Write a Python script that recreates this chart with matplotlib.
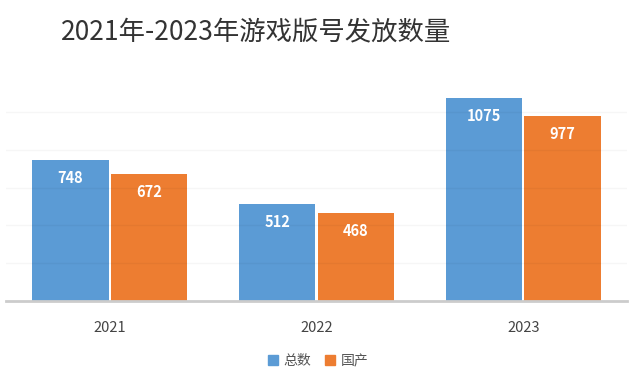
import matplotlib.pyplot as plt
import numpy as np
from matplotlib.patches import Patch

plt.rcParams['font.family'] = ['Noto Sans CJK SC', 'DejaVu Sans']

years = ['2021', '2022', '2023']
total = [748, 512, 1075]
domestic = [672, 468, 977]
series_names = ['总数', '国产']

blue = '#5b9bd5'
orange = '#ed7d31'

fig = plt.figure(figsize=(6.4, 3.84), dpi=100)
ax = fig.add_axes([0.01, 0.216, 0.969, 0.576])

x = np.arange(len(years))
w = 0.37
b1 = ax.bar(x - 0.19, total, w, color=blue, zorder=2)
b2 = ax.bar(x + 0.19, domestic, w, color=orange, zorder=2)

# faint gridlines that mostly show on top of the bars
for g in range(200, 1200, 200):
    ax.axhline(g, color='#000000', alpha=0.035, lw=1, zorder=3)

for bars in (b1, b2):
    for r in bars:
        ax.annotate(f'{int(r.get_height())}', (r.get_x() + r.get_width() / 2, r.get_height()),
                    xytext=(0, -13), textcoords='offset points', ha='center', va='center',
                    color='white', fontsize=10.5, fontweight='bold', zorder=4)

ax.set_xlim(-0.5, 2.5)
ax.set_ylim(0, 1170)
ax.set_xticks(x)
ax.set_xticklabels(years, fontsize=10.5, color='#444444')
ax.tick_params(axis='x', length=0, pad=14)
ax.set_yticks([])
for s in ['top', 'right', 'left']:
    ax.spines[s].set_visible(False)
ax.spines['bottom'].set_color('#cccccc')
ax.spines['bottom'].set_linewidth(2)

fig.text(0.40, 1 - 32 / 384, '2021年-2023年游戏版号发放数量', ha='center', va='center',
         fontsize=19, color='#333333')

handles = [Patch(color=blue), Patch(color=orange)]
fig.legend(handles, series_names, loc='center', bbox_to_anchor=(0.497, 1 - 361 / 384),
           ncol=2, frameon=False, fontsize=10, handlelength=0.7, handleheight=0.7,
           handletextpad=0.4, columnspacing=1.0, labelcolor='#555555')

fig.savefig('out.png', dpi=100)
